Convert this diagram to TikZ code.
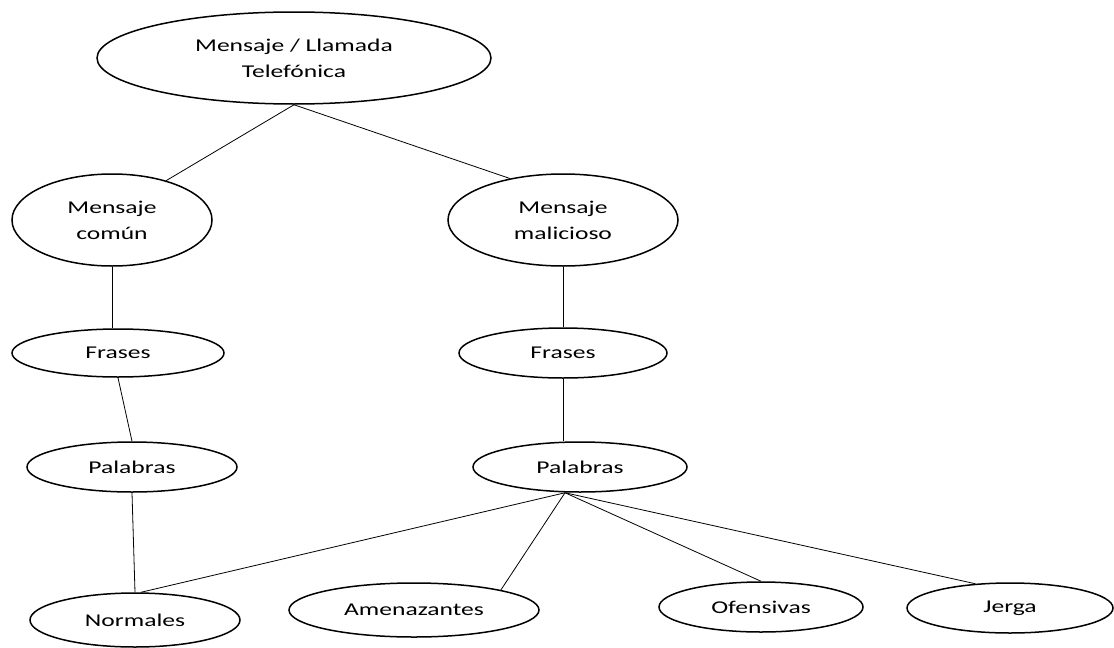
\documentclass[tikz,border=0pt]{standalone}
\usepackage{fontspec}
\setmainfont{Carlito}[FakeStretch=1.42]
\usetikzlibrary{shapes.geometric,calc}
\begin{document}
\begin{tikzpicture}[x=1pt,y=-1pt,
  ell/.style={draw,ellipse,line width=1.5pt,inner sep=0pt,align=center,
    font=\fontsize{18}{26}\selectfont},
  conn/.style={line width=0.8pt}]
\useasboundingbox (0,0) rectangle (1114,648);
\node[ell,minimum width=394,minimum height=92] (top) at (294,58) {Mensaje / Llamada\\Telefónica};
\node[ell,minimum width=200,minimum height=92] (comun) at (112,220) {Mensaje\\común};
\node[ell,minimum width=230,minimum height=92] (mal) at (563,220) {Mensaje\\malicioso};
\node[ell,minimum width=212,minimum height=48] (frL) at (118,353) {Frases};
\node[ell,minimum width=208,minimum height=50] (frR) at (563,353) {Frases};
\node[ell,minimum width=210,minimum height=50] (paL) at (132,467) {Palabras};
\node[ell,minimum width=214,minimum height=50] (paR) at (580,467) {Palabras};
\node[ell,minimum width=210,minimum height=54] (nor) at (135,620) {Normales};
\node[ell,minimum width=250,minimum height=54] (ame) at (414,610) {Amenazantes};
\node[ell,minimum width=204,minimum height=50] (ofe) at (761,607) {Ofensivas};
\node[ell,minimum width=206,minimum height=50] (jer) at (1010,608) {Jerga};
\coordinate (fan) at ($(paR.south)+(-15,0)$);
\draw[conn] (top.south) -- (comun.36);
\draw[conn] (top.south) -- (mal.142);
\draw[conn] (comun.south) -- (comun.south |- frL.north);
\draw[conn] (frL.south) -- (paL.north);
\draw[conn] (paL.south) -- (nor.north);
\draw[conn] (mal.south) -- (frR.north);
\draw[conn] (frR.south) -- (frR.south |- paR.north);
\draw[conn] (fan) -- (nor.78);
\draw[conn] (fan) -- (ame.13);
\draw[conn] (fan) -- (ofe.north);
\draw[conn] (fan) -- (jer.145);
\end{tikzpicture}
\end{document}
